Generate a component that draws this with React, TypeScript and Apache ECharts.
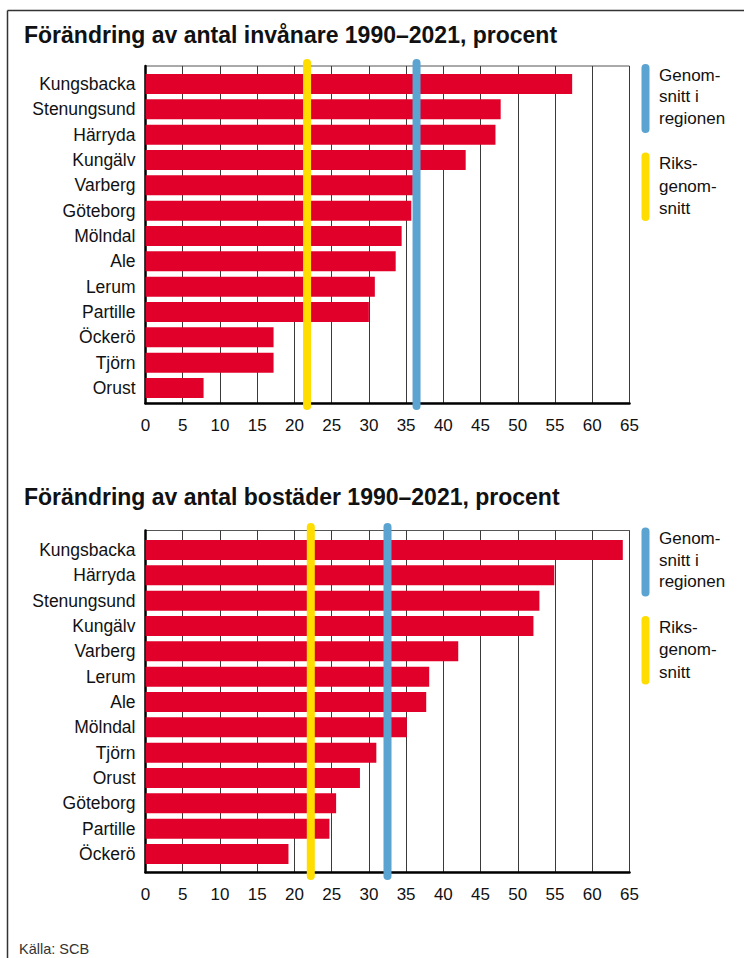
import React, { useEffect, useRef } from "react";
import * as echarts from "echarts";

const FONT = "'Liberation Sans', Arial, Helvetica, sans-serif";

const title1 = "Förändring av antal invånare 1990–2021, procent";
const title2 = "Förändring av antal bostäder 1990–2021, procent";

const cities1 = ["Kungsbacka", "Stenungsund", "Härryda", "Kungälv", "Varberg", "Göteborg", "Mölndal", "Ale", "Lerum", "Partille", "Öckerö", "Tjörn", "Orust"];
const values1 = [57.3, 47.7, 47.0, 43.0, 35.9, 35.7, 34.4, 33.6, 30.8, 30.0, 17.2, 17.2, 7.8];
const regionAvg1 = 36.4;
const nationAvg1 = 21.7;

const cities2 = ["Kungsbacka", "Härryda", "Stenungsund", "Kungälv", "Varberg", "Lerum", "Ale", "Mölndal", "Tjörn", "Orust", "Göteborg", "Partille", "Öckerö"];
const values2 = [64.1, 54.9, 52.9, 52.1, 42.0, 38.1, 37.7, 35.1, 31.0, 28.8, 25.6, 24.7, 19.2];
const regionAvg2 = 32.5;
const nationAvg2 = 22.2;

const xTickMax = 65;
const xTickStep = 5;

const legendRegion = ["Genom-", "snitt i", "regionen"];
const legendNation = ["Riks-", "genom-", "snitt"];
const source = "Källa: SCB";

const RED = "#E1002A";
const BLUE = "#5BA3D0";
const YELLOW = "#FFDD00";

export default function App() {
  const ref = useRef<HTMLDivElement>(null);

  useEffect(() => {
    if (!ref.current) return;
    const chart = echarts.init(ref.current, null, { renderer: "svg" });

    const L = 145.5;
    const W = 484;
    const layouts = [
      { frameTop: 66, frameH: 337.3, barTop: 71.3, barH: 329.4, lineTop: 63, lineH: 343, titleY: 35, legTop: 64 },
      { frameTop: 530.5, frameH: 341.8, barTop: 537.3, barH: 329.4, lineTop: 527, lineH: 349, titleY: 497, legTop: 527.5 },
    ];
    const datasets = [
      { cities: cities1, values: values1, reg: regionAvg1, nat: nationAvg1, title: title1 },
      { cities: cities2, values: values2, reg: regionAvg2, nat: nationAvg2, title: title2 },
    ];

    const grid: any[] = [];
    const xAxis: any[] = [];
    const yAxis: any[] = [];
    const series: any[] = [];
    const graphic: any[] = [];

    layouts.forEach((lay, i) => {
      const d = datasets[i];
      const base = i * 3;
      grid.push(
        { left: L, top: lay.frameTop, width: W, height: lay.frameH, show: true, borderColor: "#555", borderWidth: 1, backgroundColor: "transparent" },
        { left: L, top: lay.barTop, width: W, height: lay.barH },
        { left: L, top: lay.lineTop, width: W, height: lay.lineH }
      );
      xAxis.push(
        {
          gridIndex: base, type: "value", min: 0, max: xTickMax, interval: xTickStep,
          axisLine: { show: true, onZero: false, lineStyle: { color: "#000", width: 2.5 } },
          axisTick: { show: false },
          axisLabel: { fontFamily: FONT, fontSize: 17, color: "#111", margin: 14 },
          splitLine: { show: true, lineStyle: { color: "#3a3a3a", width: 1 } },
        },
        { gridIndex: base + 1, type: "value", min: 0, max: xTickMax, show: false },
        { gridIndex: base + 2, type: "value", min: 0, max: xTickMax, show: false }
      );
      yAxis.push(
        {
          gridIndex: base, type: "value", min: 0, max: 1,
          axisLine: { show: true, lineStyle: { color: "#000", width: 2.5 } },
          axisTick: { show: false }, axisLabel: { show: false }, splitLine: { show: false },
        },
        {
          gridIndex: base + 1, type: "category", inverse: true, data: d.cities,
          axisLine: { show: false }, axisTick: { show: false },
          axisLabel: { fontFamily: FONT, fontSize: 17.5, color: "#111", margin: 10 },
        },
        { gridIndex: base + 2, type: "value", min: 0, max: 1, show: false }
      );
      series.push(
        {
          type: "bar", xAxisIndex: base + 1, yAxisIndex: base + 1, data: d.values,
          barWidth: 20, itemStyle: { color: RED }, z: 3,
        },
        {
          type: "line", xAxisIndex: base + 2, yAxisIndex: base + 2, data: [[d.nat, 0], [d.nat, 1]],
          symbol: "none", lineStyle: { color: YELLOW, width: 8, cap: "round" }, z: 5,
        },
        {
          type: "line", xAxisIndex: base + 2, yAxisIndex: base + 2, data: [[d.reg, 0], [d.reg, 1]],
          symbol: "none", lineStyle: { color: BLUE, width: 8, cap: "round" }, z: 6,
        }
      );

      graphic.push({
        type: "text", x: 24, y: lay.titleY,
        style: { text: d.title, font: `bold 23px ${FONT}`, fill: "#111", verticalAlign: "middle" },
      });
      const lt = lay.legTop;
      graphic.push({
        type: "line", shape: { x1: 645.5, y1: lt + 4, x2: 645.5, y2: lt + 65 },
        style: { stroke: BLUE, lineWidth: 8, lineCap: "round" },
      });
      legendRegion.forEach((t, k) => {
        graphic.push({
          type: "text", x: 659, y: lt + 11 + k * 21.7,
          style: { text: t, font: `17px ${FONT}`, fill: "#111", verticalAlign: "middle" },
        });
      });
      graphic.push({
        type: "line", shape: { x1: 645.5, y1: lt + 92.5, x2: 645.5, y2: lt + 153 },
        style: { stroke: YELLOW, lineWidth: 8, lineCap: "round" },
      });
      legendNation.forEach((t, k) => {
        graphic.push({
          type: "text", x: 659, y: lt + 99.5 + k * 22.5,
          style: { text: t, font: `17px ${FONT}`, fill: "#111", verticalAlign: "middle" },
        });
      });
    });

    graphic.push(
      { type: "line", shape: { x1: 7.5, y1: 10.5, x2: 744, y2: 10.5 }, style: { stroke: "#333", lineWidth: 1.5 } },
      { type: "line", shape: { x1: 7.5, y1: 10.5, x2: 7.5, y2: 958 }, style: { stroke: "#333", lineWidth: 1.5 } },
      {
        type: "text", x: 19, y: 949,
        style: { text: source, font: `14.5px ${FONT}`, fill: "#333", verticalAlign: "middle" },
      }
    );

    chart.setOption({
      animation: false,
      backgroundColor: "#fff",
      grid, xAxis, yAxis, series, graphic,
    });

    return () => chart.dispose();
  }, []);

  return (
    <div
      ref={ref}
      style={{ position: "fixed", left: 0, top: 0, width: 744, height: 958 }}
    />
  );
}
